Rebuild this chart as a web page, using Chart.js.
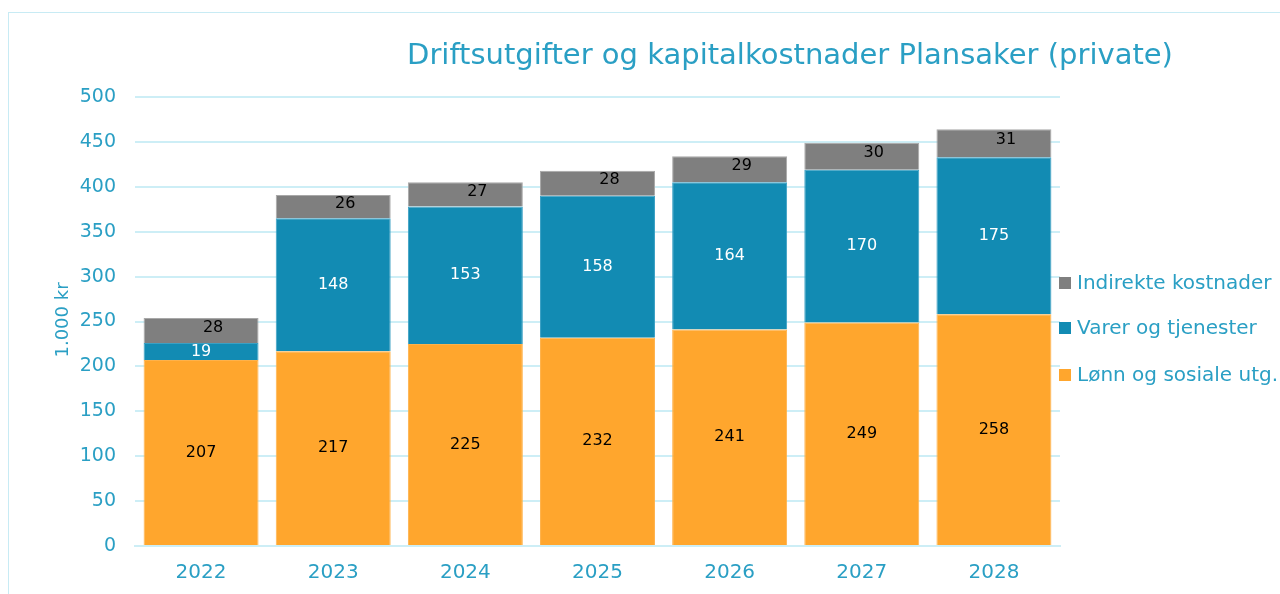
<!DOCTYPE html>
<html>
<head>
<meta charset="utf-8">
<script src="https://cdn.jsdelivr.net/npm/chart.js@4"></script>
<style>
  html, body { margin: 0; padding: 0; background: #fff; }
  #wrap { position: relative; width: 1280px; height: 594px; overflow: hidden; }
  #frame { position: absolute; left: 8px; top: 12px; width: 1300px; height: 700px; border: 1px solid #c8ebf4; }
  canvas { position: absolute; left: 0; top: 0; }
</style>
</head>
<body>
<div id="wrap">
  <div id="frame"></div>
  <canvas id="chart" width="1280" height="594"></canvas>
</div>
<script>
const years = ["2022", "2023", "2024", "2025", "2026", "2027", "2028"];
const lonn = [207, 217, 225, 232, 241, 249, 258];
const varer = [19, 148, 153, 158, 164, 170, 175];
const indirekte = [28, 26, 27, 28, 29, 30, 31];

const blueText = "#2a9fc4";
const font = "'DejaVu Sans', Verdana, sans-serif";

// values written inside each bar segment
const valueLabels = {
    id: "valueLabels",
    afterDatasetsDraw(chart) {
        const ctx = chart.ctx;
        ctx.save();
        ctx.font = "16px " + font;
        ctx.textAlign = "center";
        ctx.textBaseline = "middle";
        chart.data.datasets.forEach((ds, i) => {
            const meta = chart.getDatasetMeta(i);
            meta.data.forEach((bar, j) => {
                const mid = (bar.y + bar.base) / 2;
                ctx.fillStyle = ds.labelColor;
                ctx.fillText(ds.data[j], bar.x + ds.labelShift, mid - ds.labelLift);
            });
        });
        ctx.restore();
    }
};

// title, axis title and legend placed like the original
const extras = {
    id: "extras",
    afterDraw(chart) {
        const ctx = chart.ctx;
        ctx.save();
        ctx.font = "29px " + font;
        ctx.fillStyle = blueText;
        ctx.textAlign = "center";
        ctx.textBaseline = "middle";
        ctx.fillText("Driftsutgifter og kapitalkostnader Plansaker (private)", 790, 56);

        ctx.save();
        ctx.translate(63, 320);
        ctx.rotate(-Math.PI / 2);
        ctx.font = "18px " + font;
        ctx.fillText("1.000 kr", 0, 0);
        ctx.restore();

        // legend, top item is the last dataset
        const rows = [283, 328, 375];
        const ds = chart.data.datasets.slice().reverse();
        ctx.font = "20px " + font;
        ctx.textAlign = "left";
        ds.forEach((d, k) => {
            ctx.fillStyle = d.backgroundColor;
            ctx.fillRect(1059, rows[k] - 6, 12, 12);
            ctx.fillStyle = blueText;
            ctx.fillText(d.label, 1077, rows[k] + 1);
        });
        ctx.restore();
    }
};

new Chart(document.getElementById("chart").getContext("2d"), {
    type: "bar",
    data: {
        labels: years,
        datasets: [
            { label: "Lønn og sosiale utg.", data: lonn, backgroundColor: "#ffa62d", borderColor: "#ffb24a", borderWidth: 1, labelColor: "#000", labelShift: 0, labelLift: 0 },
            { label: "Varer og tjenester", data: varer, backgroundColor: "#128bb3", borderColor: "#3aa0c4", borderWidth: 1, labelColor: "#fff", labelShift: 0, labelLift: 0 },
            { label: "Indirekte kostnader", data: indirekte, backgroundColor: "#7f7f7f", borderColor: "#a8a8a8", borderWidth: 1, labelColor: "#000", labelShift: 12, labelLift: 3 }
        ]
    },
    options: {
        responsive: false,
        animation: false,
        layout: { padding: { top: 97, left: 0, right: 220, bottom: 0 } },
        datasets: { bar: { barPercentage: 0.87, categoryPercentage: 1 } },
        plugins: {
            title: { display: false },
            tooltip: { enabled: false },
            legend: { display: false }
        },
        scales: {
            x: {
                stacked: true,
                grid: { display: false },
                border: { display: true, color: "#cdeef6", width: 2 },
                ticks: { color: blueText, padding: 7, font: { family: font, size: 20 } },
                afterFit(scale) { scale.height = 48; }
            },
            y: {
                stacked: true,
                min: 0,
                max: 500,
                grid: { color: "#cdeef6", lineWidth: 2, drawTicks: false },
                border: { display: false },
                ticks: { stepSize: 50, color: blueText, padding: 19, font: { family: font, size: 19 } },
                afterFit(scale) { scale.width = 135; }
            }
        }
    },
    plugins: [valueLabels, extras]
});
</script>
</body>
</html>
